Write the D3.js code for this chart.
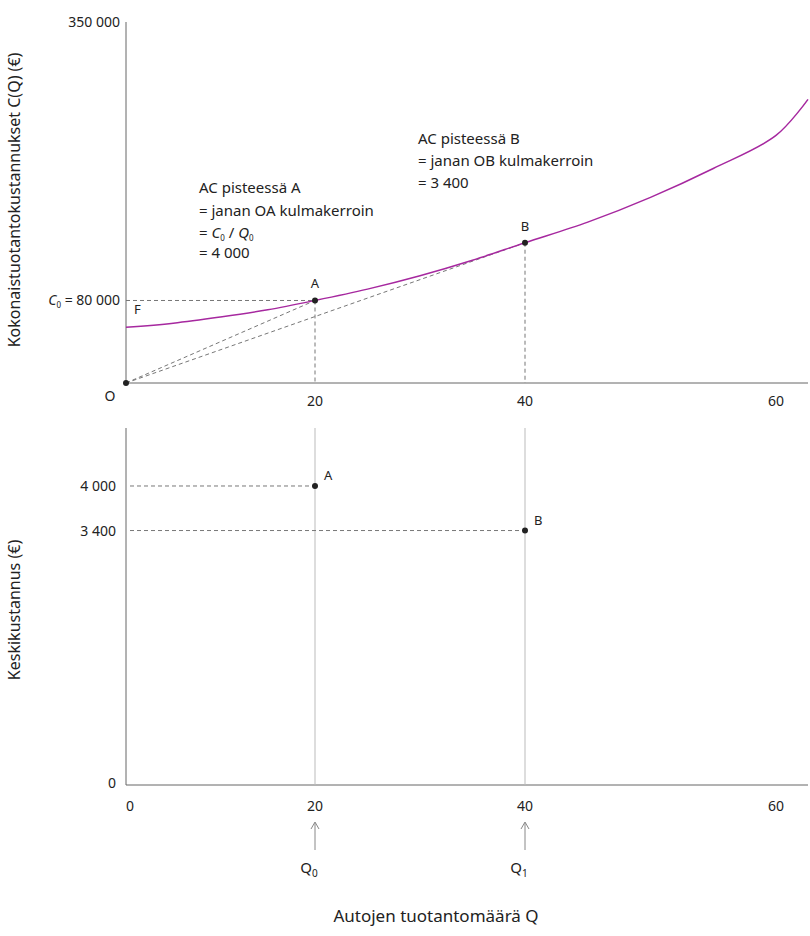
<!DOCTYPE html>
<html><head><meta charset="utf-8">
<script src="https://cdn.jsdelivr.net/npm/d3@7"></script>
<style>body{margin:0;background:#fff}text{font-family:"Noto Sans",sans-serif;fill:#222}</style>
</head><body><svg id="c" width="810" height="936"></svg>
<script>
// values
const curveQ = [0, 5, 10, 15, 20, 25, 30, 35, 40, 45, 50, 55, 60, 65];
const curveC = [54000, 58000, 64000, 71000, 80000, 91000, 104000, 119000, 136000, 156000, 180000, 208000, 240000, 275000];
const points = [{ name: 'A', q: 20, c: 80000, ac: 4000 }, { name: 'B', q: 40, c: 136000, ac: 3400 }];
const xTicks = [20, 40, 60];
const acTicks = [0, 3400, 4000];

const svg = d3.select('#c');
// the reference's x axis is not evenly spaced, so piecewise
const x = d3.scaleLinear().domain([0, 20, 40, 60, 65]).range([126, 315, 525, 776, 808]);
const yTop = d3.scaleLinear().domain([0, 350000]).range([383, 22]);
const yBot = d3.scaleLinear().domain([0, 4781]).range([783, 428]);
const fmt = v => d3.format(',')(v).replace(/,/g, ' ');
const purple = '#a6289f';

// top axes
svg.append('line').attr('x1', 126).attr('x2', 126).attr('y1', yTop(350000)).attr('y2', 383).attr('stroke', '#666');
svg.append('line').attr('x1', 126).attr('x2', 808).attr('y1', 383).attr('y2', 383).attr('stroke', '#666');
svg.append('text').attr('x', 120).attr('y', yTop(350000) + 5).attr('text-anchor', 'end').attr('font-size', 14).text(fmt(350000));
svg.selectAll('.xt').data(xTicks).enter().append('text').attr('x', d => x(d)).attr('y', 406)
  .attr('text-anchor', 'middle').attr('font-size', 14).text(d => d);
svg.append('text').attr('x', 110).attr('y', 401).attr('text-anchor', 'middle').attr('font-size', 14).text('O');
svg.append('text').attr('transform', 'translate(20,200) rotate(-90)').attr('text-anchor', 'middle').attr('font-size', 16)
  .text('Kokonaistuotantokustannukset C(Q) (€)');

// dashed guides
const dash = '4,3';
points.forEach(p => {
  svg.append('line').attr('x1', x(0)).attr('y1', yTop(0)).attr('x2', x(p.q)).attr('y2', yTop(p.c)).attr('stroke', '#777').attr('stroke-dasharray', dash);
  svg.append('line').attr('x1', x(p.q)).attr('y1', yTop(p.c)).attr('x2', x(p.q)).attr('y2', 383).attr('stroke', '#777').attr('stroke-dasharray', dash);
});
svg.append('line').attr('x1', 126).attr('x2', x(20)).attr('y1', yTop(80000)).attr('y2', yTop(80000)).attr('stroke', '#777').attr('stroke-dasharray', dash);

svg.append('path').datum(curveQ.map((q, i) => [q, curveC[i]]))
  .attr('d', d3.line().x(d => x(d[0])).y(d => yTop(d[1])).curve(d3.curveCatmullRom))
  .attr('fill', 'none').attr('stroke', purple).attr('stroke-width', 1.5);
svg.append('circle').attr('cx', 126).attr('cy', 383).attr('r', 3).attr('fill', '#222');
points.forEach(p => {
  svg.append('circle').attr('cx', x(p.q)).attr('cy', yTop(p.c)).attr('r', 3).attr('fill', '#222');
  svg.append('text').attr('x', x(p.q)).attr('y', yTop(p.c) - 12).attr('text-anchor', 'middle').attr('font-size', 13).text(p.name);
});
svg.append('text').attr('x', 134).attr('y', 314).attr('font-size', 13).text('F');
const c0 = svg.append('text').attr('x', 120).attr('y', yTop(80000) + 5).attr('text-anchor', 'end').attr('font-size', 14);
c0.append('tspan').attr('font-style', 'italic').text('C');
c0.append('tspan').attr('font-size', 8).attr('dy', 3).text('0');
c0.append('tspan').attr('dy', -3).text(' = ' + fmt(80000));

const annA = svg.append('text').attr('font-size', 15);
annA.append('tspan').attr('x', 199).attr('y', 193).text('AC pisteessä A');
annA.append('tspan').attr('x', 199).attr('y', 216).text('= janan OA kulmakerroin');
annA.append('tspan').attr('x', 199).attr('y', 238).text('= ');
annA.append('tspan').attr('font-style', 'italic').text('C');
annA.append('tspan').attr('font-size', 8).attr('dy', 3).text('0');
annA.append('tspan').attr('dy', -3).text(' / ');
annA.append('tspan').attr('font-style', 'italic').text('Q');
annA.append('tspan').attr('font-size', 8).attr('dy', 3).text('0');
annA.append('tspan').attr('x', 199).attr('y', 258).text('= ' + fmt(4000));
const annB = svg.append('text').attr('font-size', 15);
annB.append('tspan').attr('x', 418).attr('y', 144).text('AC pisteessä B');
annB.append('tspan').attr('x', 418).attr('y', 166).text('= janan OB kulmakerroin');
annB.append('tspan').attr('x', 418).attr('y', 188).text('= ' + fmt(3400));

// bottom chart
svg.append('line').attr('x1', 126).attr('x2', 126).attr('y1', 428).attr('y2', 785).attr('stroke', '#666');
svg.append('line').attr('x1', 126).attr('x2', 808).attr('y1', 785).attr('y2', 785).attr('stroke', '#666');
svg.selectAll('.vl').data(points).enter().append('line').attr('x1', d => x(d.q)).attr('x2', d => x(d.q))
  .attr('y1', 428).attr('y2', 785).attr('stroke', '#bbb');
svg.selectAll('.yt').data(acTicks).enter().append('text').attr('x', 116).attr('y', d => yBot(d) + 5)
  .attr('text-anchor', 'end').attr('font-size', 14).text(fmt);
svg.selectAll('.bxt').data([0].concat(xTicks)).enter().append('text').attr('x', d => d === 0 ? 130 : x(d)).attr('y', 811)
  .attr('text-anchor', 'middle').attr('font-size', 14).text(d => d);
points.forEach(p => {
  svg.append('line').attr('x1', 130).attr('x2', x(p.q)).attr('y1', yBot(p.ac)).attr('y2', yBot(p.ac)).attr('stroke', '#777').attr('stroke-dasharray', dash);
  svg.append('circle').attr('cx', x(p.q)).attr('cy', yBot(p.ac)).attr('r', 3).attr('fill', '#222');
  svg.append('text').attr('x', x(p.q) + 9).attr('y', yBot(p.ac) - 6).attr('font-size', 13).text(p.name);
});
svg.append('text').attr('transform', 'translate(20,610) rotate(-90)').attr('text-anchor', 'middle').attr('font-size', 16)
  .text('Keskikustannus (€)');
points.forEach((p, i) => {
  svg.append('line').attr('x1', x(p.q)).attr('x2', x(p.q)).attr('y1', 823).attr('y2', 850).attr('stroke', '#888');
  svg.append('path').attr('d', `M${x(p.q) - 4},829 L${x(p.q)},822 L${x(p.q) + 4},829`).attr('fill', 'none').attr('stroke', '#888');
  const t = svg.append('text').attr('x', x(p.q) - 6).attr('y', 873).attr('text-anchor', 'middle').attr('font-size', 15);
  t.append('tspan').text('Q');
  t.append('tspan').attr('font-size', 10).attr('dy', 4).text(i);
});
svg.append('text').attr('x', 436).attr('y', 922).attr('text-anchor', 'middle').attr('font-size', 17).text('Autojen tuotantomäärä Q');
</script></body></html>
